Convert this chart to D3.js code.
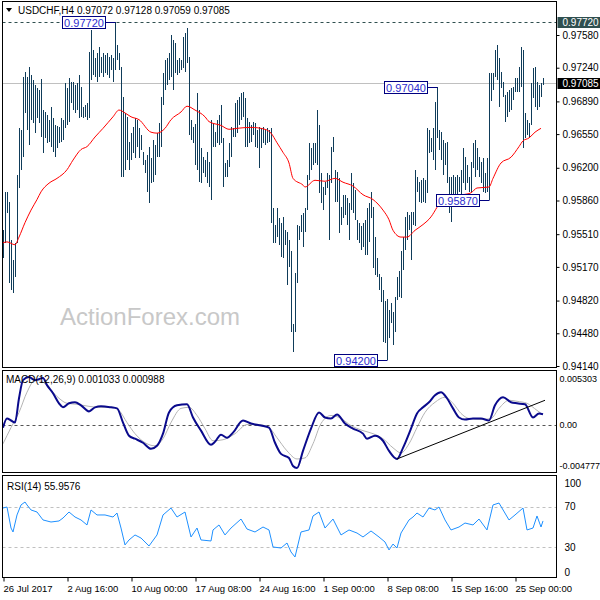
<!DOCTYPE html>
<html>
<head>
<meta charset="utf-8">
<script src="https://cdn.jsdelivr.net/npm/d3@7"></script>
<style>
  body { margin: 0; background: #fff; }
  svg { display: block; font-family: "Liberation Sans", Arial, sans-serif; }
</style>
</head>
<body>
<script>
// H4 bars (high / low per bar)
const highs = [
0.9555,0.9595,0.9595,0.9584,0.9545,0.9524,0.9542,0.9613,0.9661,0.9659,0.9714,0.9720,0.9714,0.9725,0.9716,0.9711,0.9706,0.9703,0.9701,0.9712,
0.9680,0.9678,0.9675,0.9670,0.9683,0.9672,0.9664,0.9663,0.9662,0.9672,0.9670,0.9708,0.9703,0.9713,0.9709,0.9709,0.9706,0.9708,0.9716,0.9704,
0.9683,0.9685,0.9687,0.9740,0.9763,0.9742,0.9734,0.9739,0.9746,0.9735,0.9739,0.9737,0.9739,0.9735,0.9737,0.9734,0.9772,0.9748,0.9739,0.9725,
0.9694,0.9677,0.9673,0.9647,0.9656,0.9662,0.9672,0.9670,0.9661,0.9654,0.9636,0.9628,0.9633,0.9642,0.9630,0.9649,0.9644,0.9656,0.9667,0.9694,
0.9719,0.9732,0.9734,0.9739,0.9758,0.9753,0.9750,0.9732,0.9734,0.9732,0.9756,0.9760,0.9765,0.9735,0.9670,0.9662,0.9666,0.9698,0.9680,0.9641,
0.9631,0.9628,0.9636,0.9626,0.9670,0.9666,0.9657,0.9670,0.9675,0.9685,0.9651,0.9625,0.9628,0.9646,0.9662,0.9661,0.9687,0.9690,0.9694,0.9698,
0.9699,0.9693,0.9672,0.9668,0.9664,0.9668,0.9667,0.9659,0.9662,0.9661,0.9662,0.9659,0.9661,0.9659,0.9661,0.9578,0.9561,0.9578,0.9568,0.9563,
0.9569,0.9555,0.9553,0.9545,0.9533,0.9458,0.9511,0.9561,0.9559,0.9571,0.9573,0.9578,0.9613,0.9646,0.9641,0.9646,0.9646,0.9680,0.9664,0.9615,
0.9600,0.9605,0.9615,0.9613,0.9642,0.9652,0.9618,0.9616,0.9609,0.9579,0.9592,0.9592,0.9589,0.9583,0.9615,0.9604,0.9597,0.9566,0.9563,0.9559,
0.9563,0.9566,0.9578,0.9583,0.9595,0.9579,0.9548,0.9526,0.9510,0.9506,0.9493,0.9482,0.9484,0.9472,0.9479,0.9470,0.9486,0.9506,0.9513,0.9533,
0.9548,0.9569,0.9574,0.9571,0.9574,0.9574,0.9618,0.9610,0.9605,0.9607,0.9609,0.9607,0.9661,0.9659,0.9651,0.9661,0.9688,0.9704,0.9659,0.9657,
0.9649,0.9646,0.9647,0.9610,0.9610,0.9613,0.9610,0.9613,0.9610,0.9618,0.9641,0.9631,0.9623,0.9610,0.9626,0.9646,0.9649,0.9641,0.9631,0.9626,
0.9630,0.9615,0.9630,0.9719,0.9719,0.9719,0.9742,0.9748,0.9734,0.9720,0.9709,0.9696,0.9699,0.9701,0.9703,0.9704,0.9713,0.9713,0.9725,0.9746,
0.9742,0.9677,0.9670,0.9667,0.9708,0.9724,0.9725,0.9709,0.9706,0.9708,0.9713];
const lows = [
0.9526,0.9542,0.9573,0.9500,0.9493,0.9490,0.9507,0.9542,0.9599,0.9618,0.9631,0.9677,0.9659,0.9644,0.9670,0.9667,0.9656,0.9672,0.9667,0.9652,
0.9635,0.9651,0.9646,0.9647,0.9642,0.9636,0.9631,0.9641,0.9646,0.9647,0.9649,0.9661,0.9664,0.9668,0.9687,0.9680,0.9677,0.9680,0.9672,0.9673,
0.9672,0.9673,0.9670,0.9672,0.9711,0.9716,0.9714,0.9709,0.9714,0.9719,0.9714,0.9719,0.9716,0.9713,0.9722,0.9709,0.9722,0.9732,0.9722,0.9610,
0.9610,0.9618,0.9628,0.9618,0.9628,0.9635,0.9630,0.9642,0.9630,0.9639,0.9623,0.9615,0.9595,0.9583,0.9604,0.9605,0.9613,0.9631,0.9631,0.9642,
0.9685,0.9701,0.9706,0.9711,0.9714,0.9701,0.9719,0.9716,0.9719,0.9722,0.9724,0.9720,0.9729,0.9654,0.9649,0.9646,0.9623,0.9618,0.9605,0.9604,
0.9615,0.9610,0.9604,0.9600,0.9587,0.9642,0.9642,0.9646,0.9644,0.9646,0.9600,0.9610,0.9610,0.9621,0.9631,0.9652,0.9652,0.9656,0.9664,0.9670,
0.9673,0.9642,0.9642,0.9646,0.9647,0.9654,0.9642,0.9641,0.9620,0.9641,0.9646,0.9644,0.9646,0.9647,0.9563,0.9542,0.9542,0.9548,0.9540,0.9527,
0.9526,0.9540,0.9498,0.9517,0.9449,0.9429,0.9449,0.9500,0.9545,0.9553,0.9538,0.9553,0.9576,0.9607,0.9618,0.9623,0.9625,0.9623,0.9594,0.9583,
0.9576,0.9592,0.9599,0.9545,0.9604,0.9636,0.9584,0.9584,0.9552,0.9561,0.9568,0.9571,0.9561,0.9545,0.9576,0.9573,0.9566,0.9545,0.9542,0.9535,
0.9538,0.9529,0.9529,0.9543,0.9568,0.9516,0.9509,0.9507,0.9493,0.9481,0.9439,0.9438,0.9420,0.9443,0.9459,0.9436,0.9449,0.9483,0.9486,0.9485,
0.9514,0.9535,0.9545,0.9555,0.9524,0.9561,0.9559,0.9595,0.9584,0.9583,0.9584,0.9583,0.9594,0.9635,0.9636,0.9628,0.9618,0.9651,0.9639,0.9628,
0.9613,0.9623,0.9604,0.9573,0.9564,0.9581,0.9590,0.9592,0.9595,0.9579,0.9604,0.9597,0.9604,0.9595,0.9595,0.9620,0.9610,0.9618,0.9610,0.9604,
0.9595,0.9594,0.9595,0.9587,0.9689,0.9701,0.9714,0.9711,0.9683,0.9703,0.9694,0.9668,0.9673,0.9678,0.9680,0.9690,0.9699,0.9699,0.9699,0.9704,
0.9641,0.9651,0.9654,0.9652,0.9664,0.9693,0.9683,0.9680,0.9683,0.9694,0.9706];

// moving average (red), sampled at bar indices
const maIdx = [0,2,6,8,11,14,17,19,23,27,32,35,39,42,46,50,55,58,61,64,68,74,77,81,84,89,92,96,101,103,109,113,117,124,131,134,137,140,143,145,150,151,156,161,166,170,175,180,185,190,193,195,199,202,206,210,214,217,219,224,230,234,237,243,245,249,254,258,260,263,266,269];
const maVal = [0.9542,0.9543,0.9540,0.9548,0.9563,0.9576,0.9587,0.9595,0.9604,0.9609,0.9618,0.9628,0.9639,0.9642,0.9652,0.9661,0.9673,0.9680,0.9677,0.9673,0.9670,0.9657,0.9656,0.9661,0.9670,0.9678,0.9684,0.9680,0.9673,0.9668,0.9664,0.9660,0.9661,0.9662,0.9660,0.9656,0.9646,0.9636,0.9625,0.9609,0.9602,0.9600,0.9607,0.9606,0.9609,0.9605,0.9601,0.9592,0.9587,0.9576,0.9566,0.9555,0.9548,0.9548,0.9555,0.9561,0.9569,0.9579,0.9586,0.9589,0.9592,0.9594,0.9599,0.9600,0.9609,0.9625,0.9631,0.9642,0.9648,0.9651,0.9657,0.9661];

// MACD(12,26,9)
const macdIdx = [0,2,4,6,8,10,13,16,20,22,25,28,30,33,36,39,43,46,49,54,57,60,63,66,70,74,77,80,83,87,92,95,99,104,106,109,112,115,120,124,129,133,136,139,143,145,147,150,154,158,161,164,167,171,175,180,182,186,190,193,197,200,204,207,210,213,216,219,222,225,228,231,235,239,243,246,250,254,257,261,265,268,270];
const macdVal = [-0.00029,0.00061,0.00041,0.00021,0.00261,0.00440,0.00470,0.00440,0.00460,0.00391,0.00311,0.00211,0.00171,0.00211,0.00221,0.00191,0.00131,0.00171,0.00181,0.00171,0.00161,0.00021,-0.00109,-0.00139,-0.00179,-0.00239,-0.00209,-0.00089,0.00121,0.00191,0.00201,0.00071,-0.00059,-0.00199,-0.00169,-0.00099,-0.00129,-0.00079,0.00041,0.00011,-0.00009,-0.00029,-0.00179,-0.00289,-0.00329,-0.00409,-0.00429,-0.00259,-0.00039,0.00121,0.00071,0.00061,0.00101,0.00011,-0.00039,-0.00089,-0.00139,-0.00109,-0.00159,-0.00259,-0.00339,-0.00229,-0.00039,0.00111,0.00171,0.00221,0.00291,0.00321,0.00261,0.00161,0.00071,0.00051,0.00061,0.00061,0.00041,0.00191,0.00271,0.00221,0.00211,0.00201,0.00071,0.00111,0.001033];
const sigIdx = [0,4,8,12,16,20,24,28,32,37,43,49,55,58,62,66,72,76,80,84,89,93,97,101,105,110,116,122,128,133,137,142,147,151,155,159,164,169,174,180,185,190,195,199,203,207,211,216,221,225,229,233,239,244,248,253,257,262,267,270];
const sigVal = [-0.00189,-0.00029,0.00121,0.00321,0.00440,0.00420,0.00341,0.00261,0.00211,0.00201,0.00181,0.00171,0.00171,0.00141,0.00021,-0.00089,-0.00189,-0.00209,-0.00139,0.00021,0.00161,0.00171,0.00091,-0.00039,-0.00159,-0.00149,-0.00089,0.00001,0.00001,-0.00029,-0.00129,-0.00259,-0.00339,-0.00329,-0.00189,0.00011,0.00091,0.00061,-0.00009,-0.00059,-0.00089,-0.00139,-0.00229,-0.00279,-0.00189,-0.00029,0.00121,0.00221,0.00271,0.00211,0.00111,0.00061,0.00051,0.00061,0.00161,0.00241,0.00231,0.00211,0.00141,0.000988];
const trendIdx = [197, 271];
const trendVal = [-0.00339, 0.00241];

// RSI(14)
const rsiIdx = [0,2,4,5,7,9,11,12,14,17,20,24,28,30,33,36,39,42,44,47,51,55,57,59,61,63,66,69,73,77,80,84,87,91,94,97,99,104,105,108,111,114,119,122,126,130,133,135,139,142,144,146,149,153,155,158,161,165,169,173,177,180,184,188,191,193,195,197,199,203,205,207,210,213,216,218,221,224,228,231,235,238,242,245,248,253,256,260,262,265,267,269,270];
const rsiVal = [68.6,69.6,49.0,45.1,61.8,71.6,74.5,71.6,66.7,64.7,56.9,54.9,55.9,58.8,64.7,59.8,56.9,52.0,66.7,61.8,61.8,59.8,63.7,49.0,32.4,37.3,42.2,39.2,31.4,42.2,61.8,68.6,59.8,64.7,40.2,49.0,37.3,36.3,47.1,52.0,42.2,49.0,57.8,48.0,45.1,50.0,47.1,30.4,29.4,34.3,25.5,20.6,45.1,47.1,60.8,64.7,49.0,57.8,42.2,47.1,44.1,40.2,46.1,40.2,35.3,27.5,33.3,29.4,44.1,56.9,59.8,63.7,59.8,68.6,66.7,69.6,56.9,47.1,50.0,53.9,52.0,57.8,47.1,71.6,73.5,56.9,61.8,68.6,47.1,49.0,60.8,50.0,55.9576];

// axes
const priceTicks = [0.97580,0.97240,0.96890,0.96550,0.96200,0.95860,0.95510,0.95170,0.94820,0.94480,0.94140];
const dateIdx = [0,32,64,96,128,160,192,224,256];
const dateLabels = ["26 Jul 2017","2 Aug 16:00","10 Aug 00:00","17 Aug 08:00","24 Aug 16:00","1 Sep 00:00","8 Sep 08:00","15 Sep 16:00","25 Sep 00:00"];
const macdTicks = [0.005303, 0, -0.004777];
const rsiTicks = [100, 70, 30, 0];

// swing labels
const annIdx = [56, 217, 192, 243];
const annVal = [0.97720, 0.97040, 0.94200, 0.95870];

const ohlc = [0.97072, 0.97128, 0.97059, 0.97085];
const hiLine = 0.97720;
const bid = 0.97085;

const svg = d3.select("body").append("svg").attr("width", 600).attr("height", 600);

const L = 2.5, R = 556.5;
const main = {top: 1.5, bottom: 367.5};
const mp = {top: 370.5, bottom: 472.5};
const rp = {top: 475.5, bottom: 577.5};

const x = d3.scaleLinear().domain([0, 270]).range([3, 543]);
const y = d3.scaleLinear().domain([0.94140, 0.97580]).range([366, 35]);
const yM = d3.scaleLinear().domain([-0.004777, 0.005303]).range([473, 371]);
const yR = d3.scaleLinear().domain([0, 100]).range([578, 476]);

const defs = svg.append("defs");
[["cMain", main], ["cMacd", mp], ["cRsi", rp]].forEach(([id, p]) => {
  defs.append("clipPath").attr("id", id).append("rect")
    .attr("x", L).attr("y", p.top).attr("width", R - L).attr("height", p.bottom - p.top);
});

// ---- main panel ----
const g = svg.append("g").attr("clip-path", "url(#cMain)");

g.append("text").attr("x", 60).attr("y", 325).attr("font-size", 24)
  .attr("fill", "#c8c8c8").text("ActionForex.com");

g.append("line").attr("x1", L).attr("x2", R)
  .attr("y1", Math.round(y(bid)) + 0.5).attr("y2", Math.round(y(bid)) + 0.5)
  .attr("stroke", "#c0c0c0");
g.append("line").attr("x1", L).attr("x2", R)
  .attr("y1", Math.round(y(hiLine)) + 0.5).attr("y2", Math.round(y(hiLine)) + 0.5)
  .attr("stroke", "#2f4f4f").attr("stroke-dasharray", "3,3");

g.selectAll("line.bar").data(highs).join("line").attr("class", "bar")
  .attr("x1", (d, i) => Math.round(x(i)) + 0.5).attr("x2", (d, i) => Math.round(x(i)) + 0.5)
  .attr("y1", d => y(d)).attr("y2", (d, i) => y(lows[i]))
  .attr("stroke", "#0f3c5a").attr("shape-rendering", "crispEdges");

const maLine = d3.line().x(d => x(d[0])).y(d => y(d[1])).curve(d3.curveMonotoneX);
g.append("path").attr("d", maLine(d3.zip(maIdx, maVal)))
  .attr("fill", "none").attr("stroke", "#ff0000").attr("stroke-width", 1);

// swing boxes
annIdx.forEach((bi, k) => {
  const bx = Math.round(x(bi)) + 0.5, by = Math.round(y(annVal[k])) + 0.5;
  g.append("line").attr("x1", bx - 10).attr("x2", bx).attr("y1", by).attr("y2", by).attr("stroke", "#000080");
  g.append("rect").attr("x", bx - 53).attr("y", by - 6).attr("width", 43).attr("height", 12)
    .attr("fill", "#fff").attr("stroke", "#000080");
  g.append("text").attr("x", bx - 31.5).attr("y", by + 4).attr("text-anchor", "middle")
    .attr("font-size", 11).attr("fill", "#2b2bd0").text(d3.format(".5f")(annVal[k]));
});

svg.append("path").attr("d", "M6,8 L12,8 L9,12 Z").attr("fill", "#000");
svg.append("text").attr("x", 18).attr("y", 14).attr("font-size", 10)
  .text("USDCHF,H4  " + ohlc.map(d3.format(".5f")).join(" "));

// price axis
const ay = svg.append("g").attr("transform", `translate(${R},0)`)
  .call(d3.axisRight(y).tickValues(priceTicks).tickSize(3).tickPadding(3).tickFormat(d3.format(".5f")));
ay.select(".domain").remove();
ay.selectAll("text").attr("font-size", 10).attr("font-family", "Liberation Sans, Arial").attr("fill", "#000");

[[hiLine, "#2f4f4f"], [bid, "#000"]].forEach(([v, c]) => {
  const yy = Math.round(y(v));
  svg.append("rect").attr("x", R + 1).attr("y", yy - 5).attr("width", 43).attr("height", 11).attr("fill", c);
  svg.append("text").attr("x", R + 6).attr("y", yy + 4).attr("font-size", 10).attr("fill", "#fff")
    .text(d3.format(".5f")(v));
});

// ---- MACD panel ----
const gm = svg.append("g").attr("clip-path", "url(#cMacd)");
gm.append("line").attr("x1", L).attr("x2", R).attr("y1", Math.round(yM(0)) + 0.5).attr("y2", Math.round(yM(0)) + 0.5)
  .attr("stroke", "#555").attr("stroke-dasharray", "3,3");
const mLine = d3.line().x(d => x(d[0])).y(d => yM(d[1])).curve(d3.curveMonotoneX);
gm.append("path").attr("d", mLine(d3.zip(sigIdx, sigVal)))
  .attr("fill", "none").attr("stroke", "#b4b4b4").attr("stroke-width", 1);
gm.append("path").attr("d", mLine(d3.zip(macdIdx, macdVal)))
  .attr("fill", "none").attr("stroke", "#0a0a8c").attr("stroke-width", 2);
gm.append("line").attr("x1", x(trendIdx[0])).attr("y1", yM(trendVal[0]))
  .attr("x2", x(trendIdx[1])).attr("y2", yM(trendVal[1])).attr("stroke", "#000");
svg.append("text").attr("x", 6).attr("y", 383).attr("font-size", 10)
  .text("MACD(12,26,9) 0.001033 0.000988");
macdTicks.forEach(v => {
  const yy = Math.min(Math.max(yM(v), mp.top + 8), mp.bottom - 7);
  svg.append("text").attr("x", R + 3).attr("y", yy + 3.5).attr("font-size", 9)
    .text(v === 0 ? "0.00" : d3.format(".6f")(v).replace("−", "-"));
});

// ---- RSI panel ----
const gr = svg.append("g").attr("clip-path", "url(#cRsi)");
[70, 30].forEach(v => {
  gr.append("line").attr("x1", L).attr("x2", R).attr("y1", Math.round(yR(v)) + 0.5).attr("y2", Math.round(yR(v)) + 0.5)
    .attr("stroke", "#c0c0c0").attr("stroke-dasharray", "3,3");
});
gr.append("path").attr("d", d3.line().x(d => x(d[0])).y(d => yR(d[1]))(d3.zip(rsiIdx, rsiVal)))
  .attr("fill", "none").attr("stroke", "#1e90ff").attr("stroke-width", 1);
svg.append("text").attr("x", 7).attr("y", 490).attr("font-size", 10).text("RSI(14) 55.9576");
rsiTicks.forEach(v => {
  const yy = Math.min(Math.max(yR(v), rp.top + 8), rp.bottom - 5);
  svg.append("text").attr("x", R + 8).attr("y", yy + 3.5).attr("font-size", 10).text(v);
});

// frames
[main, mp, rp].forEach(p => {
  svg.append("rect").attr("x", L).attr("y", p.top).attr("width", R - L).attr("height", p.bottom - p.top)
    .attr("fill", "none").attr("stroke", "#000");
});

// date axis
const ax = svg.append("g").attr("transform", `translate(0,${rp.bottom})`)
  .call(d3.axisBottom(x).tickValues(dateIdx).tickSize(4).tickFormat((d, i) => dateLabels[i]));
ax.select(".domain").remove();
ax.selectAll("line").attr("transform", "translate(0.5,0)");
ax.selectAll("text").attr("text-anchor", "start").attr("font-size", 9.5)
  .attr("font-family", "Liberation Sans, Arial").attr("fill", "#000").attr("y", 8).attr("dy", "0.71em");
</script>
</body>
</html>
